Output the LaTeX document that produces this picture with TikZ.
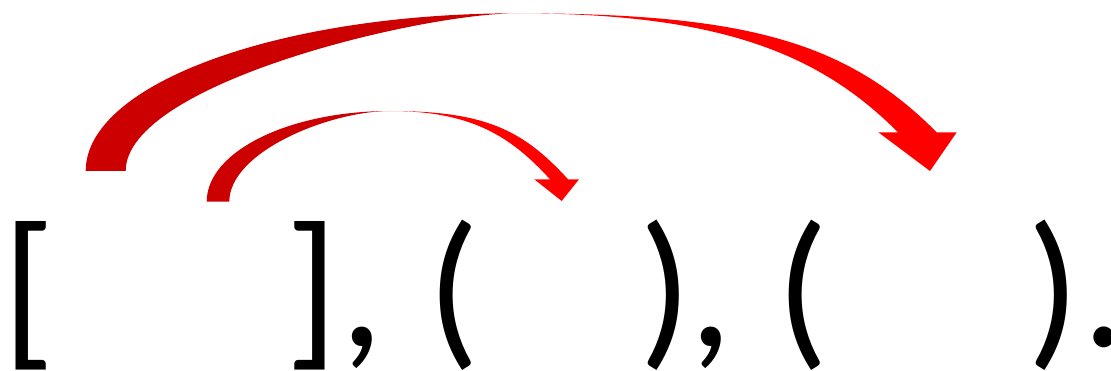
\documentclass[tikz,border=0pt]{standalone}
\usepackage{fontspec}
\setmainfont{Carlito}
\definecolor{arcdark}{HTML}{CC0000}
\definecolor{arcred}{HTML}{FF0000}
\begin{document}
\begin{tikzpicture}[x=1pt,y=-1pt,
  glyph/.style={anchor=base,inner sep=0pt,outer sep=0pt,font=\fontsize{173}{173}\selectfont},
  leftpart/.style={fill=arcdark},
  rightpart/.style={fill=arcred}]
\useasboundingbox (0,0) rectangle (1111,371);
% glyphs
\node[glyph] (lb)  at (29,346.5)   {[};
\node[glyph] (rb)  at (312.5,346.5) {]};
\node[glyph] (c1)  at (362,346.5)  {,};
\node[glyph] (lp1) at (454,346.5)  {(};
\node[glyph] (rp1) at (666,346.5)  {)};
\node[glyph] (c2)  at (711,346.5)  {,};
\node[glyph] (lp2) at (803,346.5)  {(};
\node[glyph] (rp2) at (1054,346.5) {)};
\node[glyph] (dot) at (1104,346.5) {.};
% big arrow
\coordinate (bigtop) at (517,13.3);
\fill[leftpart] (85.7,171) .. controls (85.7,83.9) and (278.8,13.3) .. (bigtop)
  .. controls (420,13.3) and (125.7,83.9) .. (125.7,171) -- cycle;
\fill[rightpart] (bigtop) .. controls (747,13.3) and (846.7,42) .. (936.7,132.3)
  -- (956.7,132.3) -- (930,171) -- (878.3,132.3) -- (898,132.3)
  .. controls (818,52) and (717,13.3) .. (bigtop) -- cycle;
% small arrow
\coordinate (smalltop) at (390,111);
\fill[leftpart] (206.7,201.7) .. controls (206.7,151.6) and (288.8,111) .. (smalltop)
  .. controls (330,111) and (229.3,151.6) .. (229.3,201.7) -- cycle;
\fill[rightpart] (smalltop) .. controls (485,111) and (523,129.8) .. (568,179.3)
  -- (579,179.3) -- (561.7,201) -- (534.3,179.3) -- (550,179.3)
  .. controls (510,135.3) and (470,111) .. (smalltop) -- cycle;
\end{tikzpicture}
\end{document}
